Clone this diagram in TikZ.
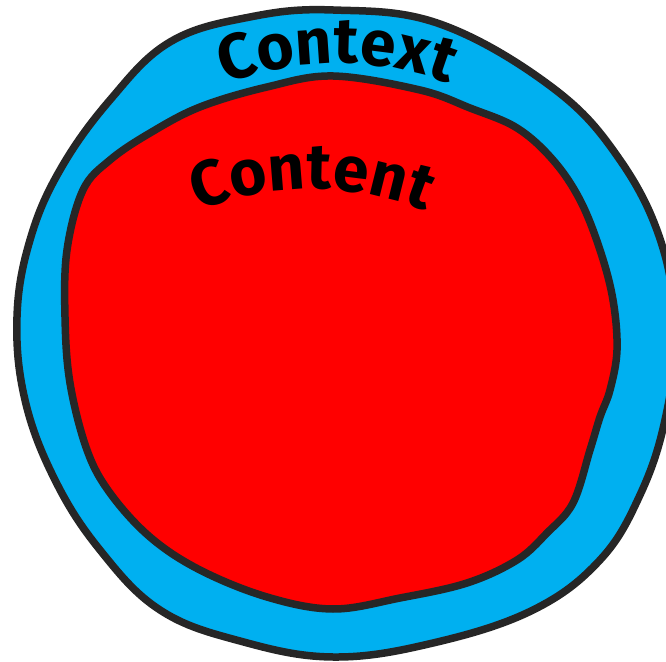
\documentclass[tikz,border=0pt]{standalone}
\usepackage{fontspec}
\setmainfont{Fira Sans}
\usepackage{xcolor}
\usepackage{tikz}
\usetikzlibrary{decorations.text}
\definecolor{ctxblue}{HTML}{00B0F0}
\definecolor{cntred}{HTML}{FF0000}
\definecolor{outline}{HTML}{262626}

\begin{document}
\begin{tikzpicture}[
    x=1pt, y=1pt,
    blob/.style={draw=outline, line width=7.5pt, line join=round},
    arctext/.style={
        decorate,
        decoration={text along path, text align=center,
            text={|\fontsize{64}{66}\selectfont\bfseries|#1}}
    },
]
\useasboundingbox (0,0) rectangle (666,661);
\clip (0,0) rectangle (666,661);

% Context
\draw[blob, fill=ctxblue] plot[smooth cycle, tension=0.65] coordinates {
    (333,651) (440,637) (553,573) (620,501) (662,416) (675,326)
    (665,241) (640,166) (600,101) (533,51) (433,18) (333,4)
    (240,20) (160,51) (100,111) (55,181) (25,261) (17,344)
    (30,421) (60,491) (110,561) (170,619) (250,644)};

% Content
\draw[blob, fill=cntred] plot[smooth cycle, tension=0.6] coordinates {
    (333,585) (420,571) (470,553) (517,533) (553,501) (580,461) (600,411)
    (613,361) (617,311) (610,271) (600,244) (590,211) (573,158) (547,128)
    (517,101) (467,78) (400,63) (333,52) (267,64) (200,91) (150,124)
    (110,168) (87,211) (70,278) (65,344) (67,411) (83,471) (110,501)
    (150,528) (200,554) (267,574)};

% labels
\path[arctext=Context] (337,288) ++(125:310) arc (125:55:310);
\path[arctext=Content] (312,172) ++(125:300) arc (125:55:300);
\end{tikzpicture}
\end{document}
